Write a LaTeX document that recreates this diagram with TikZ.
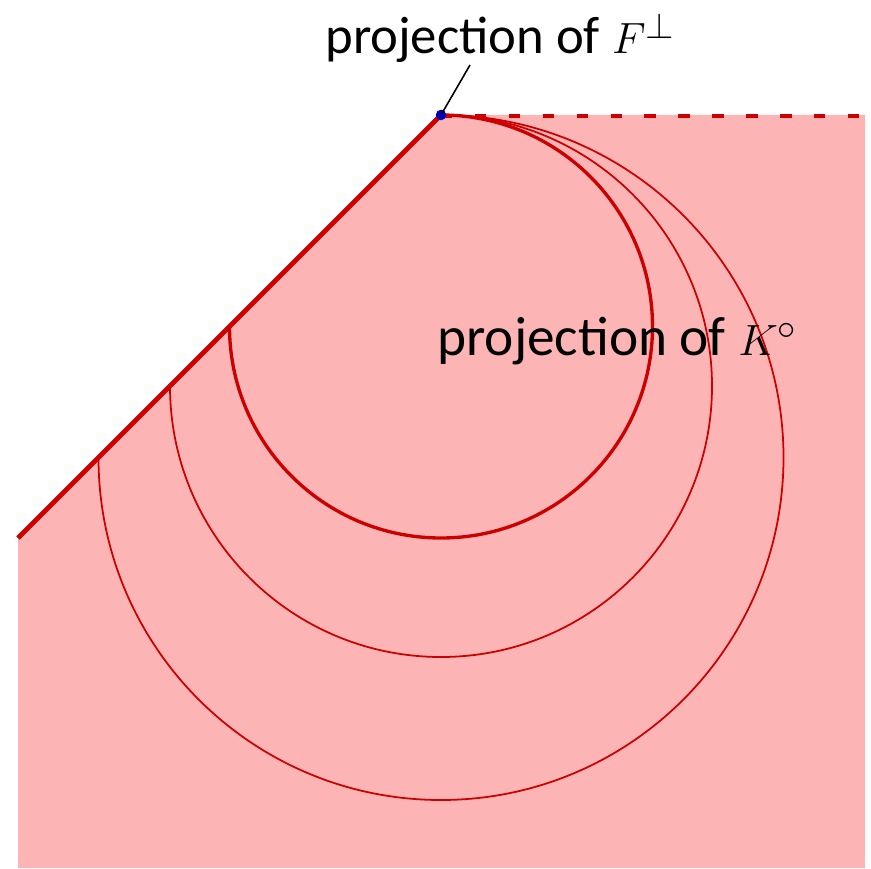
\documentclass[tikz,border=0pt]{standalone}
\usepackage{fontspec}
\setmainfont{Carlito}
\usetikzlibrary{positioning}
\definecolor{projred}{RGB}{204,0,0}
\definecolor{projpink}{RGB}{253,180,181}
\definecolor{apexblue}{RGB}{0,0,190}
\tikzset{
  bnd/.style={projred, line width=2.8pt, line cap=butt},
  dsh/.style={projred, line width=2.8pt, dash pattern=on 6.5pt off 12.8pt},
  thickarc/.style={projred, line width=1.9pt},
  thinarc/.style={projred, line width=1.0pt},
  lbl/.style={anchor=base west, inner sep=0pt, font=\fontsize{30}{36}\selectfont},
  apx/.style={circle, fill=apexblue, inner sep=0pt, minimum size=6pt},
}

\begin{document}
\begin{tikzpicture}[x=0.02cm, y=-0.02cm]
    \useasboundingbox (0,0) rectangle (871,868);
    \fill[projpink] (18,868) -- (18,538) -- (441,115) -- (865,115) -- (865,868) -- cycle;
    \draw[bnd] (18,538) -- (441,115);
    \draw[dsh] (441,116) -- (865,116);
    % circles tangent at the apex
    \draw[thickarc] (229.5,326.5) arc[start angle=180, end angle=-90, radius=211.5];
    \foreach \r in {271,342.5}
      \draw[thinarc] (441-\r,115+\r) arc[start angle=180, end angle=-90, radius=\r];
    \node[apx] (apex) at (441,115) {};
    \node[lbl] (labF) at (325,54) {projection of $F^{\perp}$};
    \node[lbl, font=\fontsize{31.5}{38}\selectfont] (labK) at (437,355) {projection of $K^{\circ}$};
    \coordinate (tip) at (470,65);
    \draw[line width=0.9pt] (tip) -- (apex.center);
\end{tikzpicture}
\end{document}
